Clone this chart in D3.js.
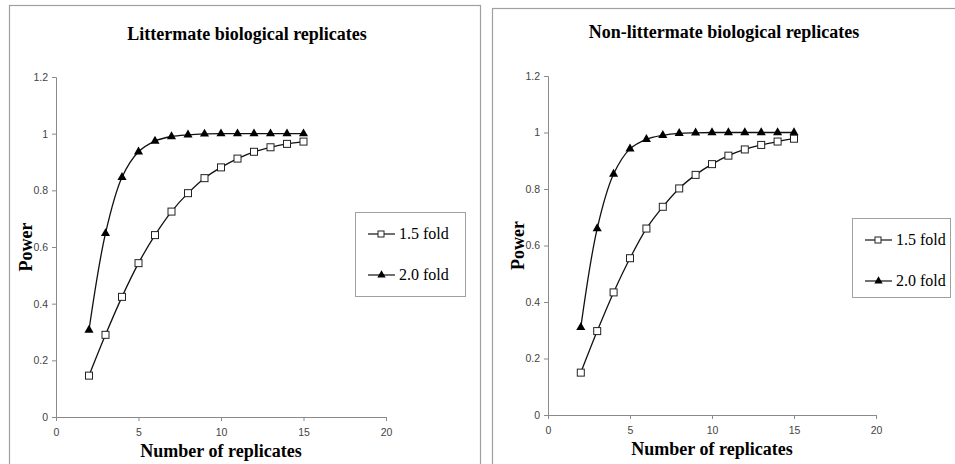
<!DOCTYPE html>
<html>
<head>
<meta charset="utf-8">
<script src="https://cdn.jsdelivr.net/npm/d3@7"></script>
<style>
  body { margin: 0; background: #fff; }
  svg { display: block; }
</style>
</head>
<body>
<svg id="chart" width="955" height="464"></svg>
<script>
// data
const replicates = [2, 3, 4, 5, 6, 7, 8, 9, 10, 11, 12, 13, 14, 15]
const litter_15 = [0.146, 0.29, 0.424, 0.543, 0.642, 0.725, 0.79, 0.843, 0.881, 0.912, 0.936, 0.952, 0.964, 0.972]
const litter_20 = [0.307, 0.648, 0.846, 0.936, 0.974, 0.99, 0.996, 0.999, 1, 1, 1, 1, 1, 1]
const nonlitter_15 = [0.15, 0.297, 0.434, 0.555, 0.66, 0.737, 0.802, 0.85, 0.888, 0.918, 0.94, 0.956, 0.968, 0.978]
const nonlitter_20 = [0.31, 0.66, 0.853, 0.942, 0.976, 0.99, 0.997, 0.999, 1, 1, 1, 1, 1, 1]
const x_ticks = [0, 5, 10, 15, 20]
const y_ticks = [0, 0.2, 0.4, 0.6, 0.8, 1, 1.2]
const series_names = ['1.5 fold', '2.0 fold']

const svg = d3.select('#chart')

const serif = '"Liberation Serif", "Times New Roman", serif'
const sans = '"Liberation Sans", Arial, sans-serif'

function panel(opts){
  const g = svg.append('g')

  // panel frame
  g.append('rect')
    .attr('x', opts.frame.x + 0.5).attr('y', opts.frame.y + 0.5)
    .attr('width', opts.frame.w).attr('height', opts.frame.h)
    .attr('fill', 'none').attr('stroke', '#a0a0a0').attr('stroke-width', 1.2)

  const x = d3.scaleLinear().domain([0, 20]).range([opts.left, opts.right])
  const y = d3.scaleLinear().domain([0, 1.2]).range([opts.bottom, opts.top])

  const xAxis = g.append('g')
    .attr('transform', `translate(0,${opts.bottom})`)
    .call(d3.axisBottom(x).tickValues(x_ticks).tickSize(4).tickSizeOuter(4).tickFormat(d3.format('d')))
  const yAxis = g.append('g')
    .attr('transform', `translate(${opts.left},0)`)
    .call(d3.axisLeft(y).tickValues(y_ticks).tickSize(4).tickSizeOuter(4).tickFormat(d => d3.format('~g')(d)))

  ;[xAxis, yAxis].forEach(a => {
    a.selectAll('path, line').attr('stroke', '#8a8a8a')
    a.selectAll('text').attr('fill', '#444').style('font-family', sans).style('font-size', '10.5px')
  })
  xAxis.selectAll('text').attr('dy', '1.1em')
  yAxis.selectAll('text').attr('x', -8)

  g.append('text')
    .attr('x', opts.titleX).attr('y', opts.titleY)
    .attr('text-anchor', 'middle')
    .style('font-family', serif).style('font-weight', 'bold').style('font-size', '18px')
    .text(opts.title)

  g.append('text')
    .attr('x', (opts.left + opts.right) / 2).attr('y', opts.bottom + 40)
    .attr('text-anchor', 'middle')
    .style('font-family', serif).style('font-weight', 'bold').style('font-size', '18px')
    .text('Number of replicates')

  g.append('text')
    .attr('transform', `translate(${opts.left - 24},${(opts.top + opts.bottom) / 2}) rotate(-90)`)
    .attr('text-anchor', 'middle')
    .style('font-family', serif).style('font-weight', 'bold').style('font-size', '18px')
    .text('Power')

  const line = d3.line()
    .x(d => x(d[0])).y(d => y(d[1]))
    .curve(d3.curveCatmullRom.alpha(0.5))

  const pts15 = replicates.map((r, i) => [r, opts.s15[i]])
  const pts20 = replicates.map((r, i) => [r, opts.s20[i]])

  g.append('path').datum(pts20).attr('d', line)
    .attr('fill', 'none').attr('stroke', '#111').attr('stroke-width', 1.3)
  g.append('path').datum(pts15).attr('d', line)
    .attr('fill', 'none').attr('stroke', '#111').attr('stroke-width', 1.3)

  const tri = d3.symbol().type(d3.symbolTriangle).size(36)
  g.append('g').selectAll('path').data(pts20).enter().append('path')
    .attr('transform', d => `translate(${x(d[0])},${y(d[1])})`)
    .attr('d', tri).attr('fill', '#000')
  g.append('g').selectAll('rect').data(pts15).enter().append('rect')
    .attr('x', d => x(d[0]) - 3.5).attr('y', d => y(d[1]) - 3.5)
    .attr('width', 7).attr('height', 7)
    .attr('fill', '#fff').attr('stroke', '#222').attr('stroke-width', 1)

  // legend
  const lg = g.append('g').attr('transform', `translate(${opts.legend.x},${opts.legend.y})`)
  lg.append('rect')
    .attr('x', 0.5).attr('y', 0.5).attr('width', opts.legend.w).attr('height', opts.legend.h)
    .attr('fill', '#fff').attr('stroke', '#a0a0a0')
  series_names.forEach((name, i) => {
    const cy = 22 + i * 41
    lg.append('line').attr('x1', 13).attr('x2', 40).attr('y1', cy).attr('y2', cy)
      .attr('stroke', '#111').attr('stroke-width', 1.2)
    if(i == 0)
      lg.append('rect').attr('x', 23).attr('y', cy - 3).attr('width', 6).attr('height', 6)
        .attr('fill', '#fff').attr('stroke', '#222')
    else
      lg.append('path').attr('transform', `translate(26.5,${cy})`)
        .attr('d', d3.symbol().type(d3.symbolTriangle).size(30)).attr('fill', '#000')
    lg.append('text').attr('x', 44).attr('y', cy + 5)
      .style('font-family', serif).style('font-size', '16px')
      .text(name)
  })
}

panel({
  frame: {x: 9, y: 5, w: 471, h: 470},
  left: 56, right: 386, top: 77, bottom: 417,
  titleX: 247, titleY: 40,
  title: 'Littermate biological replicates',
  s15: litter_15, s20: litter_20,
  legend: {x: 355, y: 212, w: 110, h: 84}
})

panel({
  frame: {x: 492, y: 8, w: 470, h: 470},
  left: 548, right: 876, top: 76, bottom: 415,
  titleX: 724, titleY: 38,
  title: 'Non-littermate biological replicates',
  s15: nonlitter_15, s20: nonlitter_20,
  legend: {x: 852, y: 218, w: 98, h: 79}
})
</script>
</body>
</html>
